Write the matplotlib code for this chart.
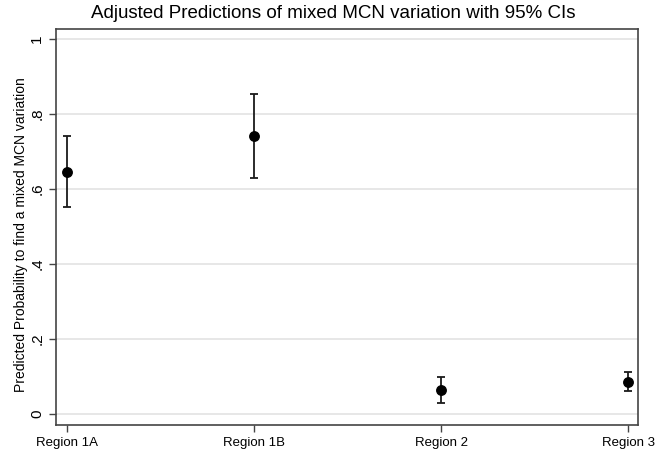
import matplotlib.pyplot as plt
import numpy as np

regions = ["Region 1A", "Region 1B", "Region 2", "Region 3"]
pred = [0.645, 0.741, 0.064, 0.086]
ci_low = [0.552, 0.629, 0.029, 0.061]
ci_high = [0.741, 0.853, 0.099, 0.112]

plt.rcParams['font.family'] = ['Liberation Sans', 'DejaVu Sans']

fig = plt.figure(figsize=(6.67, 4.51), dpi=100)
ax = fig.add_axes([56/667, 1-425/451, (638-56)/667, (425-29)/451])

x = np.arange(1, len(regions) + 1)
pred = np.array(pred)
yerr = [pred - np.array(ci_low), np.array(ci_high) - pred]
ax.errorbar(x, pred, yerr=yerr, fmt='o', color='black', ms=6.8,
            ecolor='#1a1a1a', elinewidth=1.3, capsize=2.8, capthick=1.3, zorder=3)

ax.set_xlim(0.94, 4.053)
ax.set_ylim(-0.029, 1.027)
yt = [0, 0.2, 0.4, 0.6, 0.8, 1]
ax.set_yticks(yt)
ax.set_yticklabels(["0", ".2", ".4", ".6", ".8", "1"], rotation=90, va='center', fontsize=11)
ax.set_xticks(x)
ax.set_xticklabels(regions, fontsize=9.5)
ax.grid(axis='y', color='#e3e3e3', lw=1.2)
ax.set_axisbelow(True)
for s in ax.spines.values():
    s.set_color('#444444')
    s.set_linewidth(1.2)
ax.tick_params(color='#444444', length=5, width=1)
ax.set_ylabel("Predicted Probability to find a mixed MCN variation", fontsize=10)
ax.yaxis.set_label_coords(-0.048, 0.48)
fig.text(0.5, 1-13/451, "Adjusted Predictions of mixed MCN variation with 95% CIs",
         ha='center', va='center', fontsize=13.5)

fig.savefig("out.png", dpi=100)
